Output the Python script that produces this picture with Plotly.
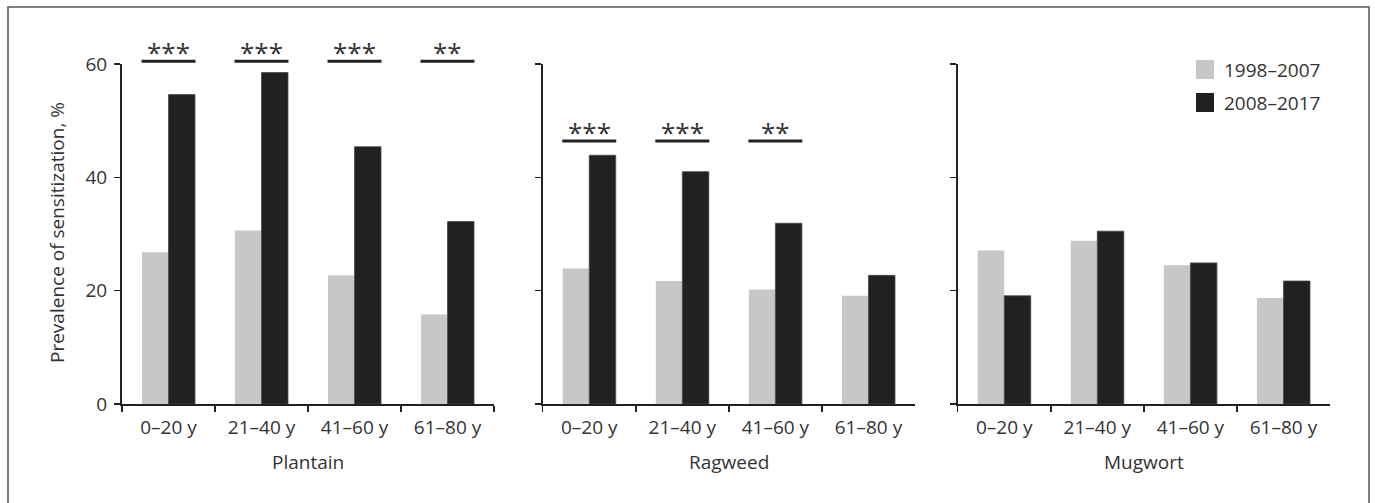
import plotly.graph_objects as go

# ---------------- data ----------------
categories = ["0–20 y", "21–40 y", "41–60 y", "61–80 y"]
allergens = ["Plantain", "Ragweed", "Mugwort"]
series_names = ["1998–2007", "2008–2017"]

plantain_1998 = [26.8, 30.6, 22.7, 15.8]
plantain_2008 = [54.6, 58.5, 45.4, 32.2]
ragweed_1998 = [23.9, 21.7, 20.2, 19.1]
ragweed_2008 = [43.9, 41.0, 31.9, 22.7]
mugwort_1998 = [27.1, 28.8, 24.5, 18.7]
mugwort_2008 = [19.1, 30.5, 24.9, 21.7]

plantain_sig = ["***", "***", "***", "**"]
ragweed_sig = ["***", "***", "**", ""]
mugwort_sig = ["", "", "", ""]
sig_level = [60.5, 46.4, 0]   # height of significance bars per panel

y_ticks = [0, 20, 40, 60]
Y_MAX = 60

# ---------------- style ----------------
W, H = 1375, 503
C_OLD = "#c6c7c9"
C_NEW = "#222120"
TXT = "#333333"
FONT = "Open Sans"


def px_x(v):
    return v / W


def px_y(v):
    return 1 - v / H


panels = [
    (plantain_1998, plantain_2008, plantain_sig),
    (ragweed_1998, ragweed_2008, ragweed_sig),
    (mugwort_1998, mugwort_2008, mugwort_sig),
]
x_px = [(122, 494), (542.7, 915), (957.7, 1330)]
y_px = (64, 404)

fig = go.Figure()
shapes = []
annotations = []

for i, (old, new, sig) in enumerate(panels):
    xa = "x" if i == 0 else f"x{i+1}"
    ya = "y" if i == 0 else f"y{i+1}"
    fig.add_trace(go.Bar(x=categories, y=old, name=series_names[0], marker_color=C_OLD,
                         marker_line_width=0, xaxis=xa, yaxis=ya, showlegend=False))
    fig.add_trace(go.Bar(x=categories, y=new, name=series_names[1], marker_color=C_NEW,
                         marker_line_width=0.8, marker_line_color="#4a4a4a",
                         xaxis=xa, yaxis=ya, showlegend=False))
    xkey = "xaxis" if i == 0 else f"xaxis{i+1}"
    ykey = "yaxis" if i == 0 else f"yaxis{i+1}"
    fig.update_layout(**{
        xkey: dict(domain=[px_x(x_px[i][0]), px_x(x_px[i][1])], anchor=ya,
                   type="category", tickson="boundaries", ticks="outside", ticklen=6,
                   tickwidth=1.5, tickcolor="#222", showline=True, linecolor="#222",
                   linewidth=2, showgrid=False, zeroline=False, automargin=False,
                   ticklabelstandoff=5,
                   tickfont=dict(family=FONT, size=19, color=TXT), range=[-0.5, 3.5],
                   fixedrange=True),
        ykey: dict(domain=[px_y(y_px[1]), px_y(y_px[0])], anchor=xa,
                   range=[0, Y_MAX], tickvals=y_ticks, ticks="outside", ticklen=6,
                   tickwidth=1.2, tickcolor="#222", showline=True, linecolor="#222",
                   linewidth=2, showgrid=False, zeroline=False, automargin=False,
                   showticklabels=(i == 0), ticklabelstandoff=3,
                   tickfont=dict(family=FONT, size=19, color=TXT), fixedrange=True),
    })
    # significance bars and stars
    for j, s in enumerate(sig):
        if not s:
            continue
        shapes.append(dict(type="line", xref=xa, yref=f"{ya} domain",
                           x0=j - 0.29, x1=j + 0.29,
                           y0=sig_level[i] / Y_MAX, y1=sig_level[i] / Y_MAX,
                           line=dict(color="#222", width=3)))
        annotations.append(dict(xref=xa, yref=f"{ya} domain", x=j, y=sig_level[i] / Y_MAX,
                                text=s, showarrow=False, yanchor="bottom", yshift=-11,
                                font=dict(family=FONT, size=26, color=TXT)))
    # panel title
    annotations.append(dict(xref=f"{xa} domain", yref="paper", x=0.5, y=px_y(461.7),
                            text=allergens[i], showarrow=False, yanchor="middle",
                            font=dict(family=FONT, size=19, color=TXT)))

# y-axis title
annotations.append(dict(xref="paper", yref="paper", x=px_x(57), y=px_y(233),
                        text="Prevalence of sensitization, %", textangle=-90,
                        showarrow=False, xanchor="center", yanchor="middle",
                        font=dict(family=FONT, size=19, color=TXT)))

# manual legend
for k, (name, col) in enumerate(zip(series_names, [C_OLD, C_NEW])):
    top = 60 + k * 33
    shapes.append(dict(type="rect", xref="paper", yref="paper",
                       x0=px_x(1196), x1=px_x(1214), y0=px_y(top + 19), y1=px_y(top),
                       fillcolor=col, line=dict(width=0)))
    annotations.append(dict(xref="paper", yref="paper", x=px_x(1222), y=px_y(top + 9.5),
                            text=name, showarrow=False, xanchor="left", yanchor="middle",
                            font=dict(family=FONT, size=19, color=TXT)))

# outer frame
shapes.append(dict(type="rect", xref="paper", yref="paper",
                   x0=px_x(8), x1=px_x(1369), y0=-0.05, y1=px_y(7),
                   line=dict(color="#555", width=1.5), fillcolor="rgba(0,0,0,0)"))

fig.update_layout(
    template="none",
    width=W, height=H,
    margin=dict(l=0, r=0, t=0, b=0, pad=0, autoexpand=False),
    paper_bgcolor="white", plot_bgcolor="white",
    barmode="group", bargap=0.43, bargroupgap=0,
    shapes=shapes, annotations=annotations,
    font=dict(family=FONT, color=TXT),
    showlegend=False,
    hovermode=False,
)

fig.write_html(
    "out.html",
    config={"displayModeBar": False, "staticPlot": True},
    post_script="document.body.style.margin='0';document.body.style.overflow='hidden';",
)
